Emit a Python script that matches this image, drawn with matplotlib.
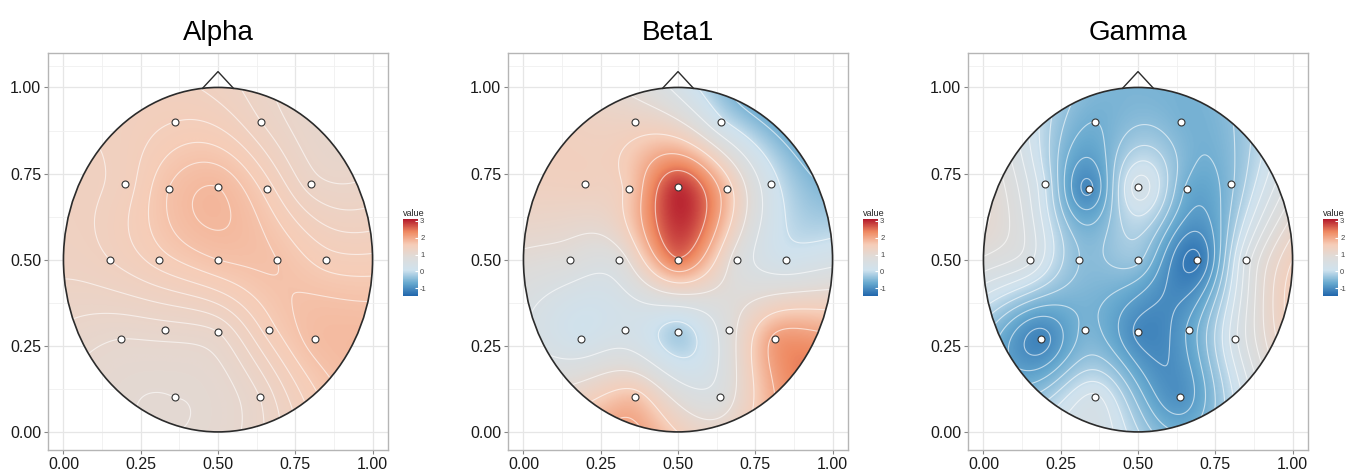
import numpy as np
import matplotlib
matplotlib.use("Agg")
import matplotlib.pyplot as plt
from matplotlib.colors import LinearSegmentedColormap
from matplotlib.patches import Ellipse
from matplotlib.ticker import MaxNLocator

plt.rcParams["font.family"] = ["Liberation Sans", "DejaVu Sans"]
plt.rcParams["axes.unicode_minus"] = False

# ---- data ----
electrodes = ["Fp1", "Fp2", "F7", "F3", "Fz", "F4", "F8", "T3", "C3", "Cz",
              "C4", "T4", "T5", "P3", "Pz", "P4", "T6", "O1", "O2"]
elec_x = [0.36, 0.64, 0.20, 0.34, 0.50, 0.66, 0.80, 0.15, 0.31, 0.50,
          0.69, 0.85, 0.185, 0.33, 0.50, 0.665, 0.815, 0.36, 0.635]
elec_y = [0.90, 0.90, 0.72, 0.705, 0.71, 0.705, 0.72, 0.50, 0.50, 0.50,
          0.50, 0.50, 0.27, 0.295, 0.29, 0.295, 0.27, 0.10, 0.10]

alpha_vals = [1.50, 1.30, 1.45, 1.70, 1.80, 1.55, 1.25, 1.40, 1.55, 1.70,
              1.70, 1.55, 1.10, 1.15, 1.20, 1.55, 1.75, 1.00, 1.20]
beta1_vals = [1.30, 0.10, 1.40, 1.60, 2.90, 1.70, 0.20, 0.80, 0.80, 2.45,
              0.80, 0.20, 0.20, 0.30, -0.20, 0.80, 2.10, 1.70, 0.70]
gamma_vals = [-0.60, -0.55, 0.00, -1.05, 0.30, -0.65, -0.45, 0.45, -0.40, -0.35,
              -1.25, 0.45, -1.10, -0.55, -1.05, -0.75, 0.35, 0.25, -0.95]

titles = ["Alpha", "Beta1", "Gamma"]
series = [alpha_vals, beta1_vals, gamma_vals]
axis_ticks = [0.0, 0.25, 0.5, 0.75, 1.0]
axis_ticklabels = ["0.00", "0.25", "0.50", "0.75", "1.00"]
cbar_ticks = [-1, 0, 1, 2, 3]
vmin, vmax = -1.45, 3.1

# ---- colormap (distiller RdBu-like, greyish centre) ----
cmap = LinearSegmentedColormap.from_list(
    "rdbu_g", ["#2166ac", "#67a9cf", "#cfe2ee", "#dedcda", "#f6cdb8", "#ef8a62", "#b2182b"])


def biharmonic(xs, ys, vs, gx, gy):
    xs = np.asarray(xs); ys = np.asarray(ys); vs = np.asarray(vs)
    def g(r):
        with np.errstate(divide="ignore", invalid="ignore"):
            out = r ** 2 * (np.log(r) - 1.0)
        out[r == 0] = 0.0
        return out
    d = np.hypot(xs[:, None] - xs[None, :], ys[:, None] - ys[None, :])
    w = np.linalg.solve(g(d), vs)
    dg = np.hypot(gx.ravel()[:, None] - xs[None, :], gy.ravel()[:, None] - ys[None, :])
    return (g(dg) @ w).reshape(gx.shape)


W, H = 1361, 471
fig = plt.figure(figsize=(W / 100, H / 100), dpi=100)

panel_left = [48, 508, 968]
panel_w = 340
panel_top, panel_bot = 53, 450
cbar_left = [403, 863, 1323]

n = 400
gxv = np.linspace(0, 1, n)
gyv = np.linspace(0, 1, n)
GX, GY = np.meshgrid(gxv, gyv)
inside = (GX - 0.5) ** 2 + (GY - 0.5) ** 2 <= 0.25

for i in range(3):
    ax = fig.add_axes([panel_left[i] / W, 1 - panel_bot / H, panel_w / W, (panel_bot - panel_top) / H])
    ax.set_xlim(-0.05, 1.05)
    ax.set_ylim(-0.0525, 1.1)
    ax.set_xticks(axis_ticks)
    ax.set_xticklabels(axis_ticklabels)
    ax.set_yticks(axis_ticks)
    ax.set_yticklabels(axis_ticklabels)
    ax.set_xticks([0.125, 0.375, 0.625, 0.875], minor=True)
    ax.set_yticks([0.125, 0.375, 0.625, 0.875, 1.0625], minor=True)
    ax.grid(True, which="major", color="#e6e6e6", lw=0.9)
    ax.grid(True, which="minor", color="#f0f0f0", lw=0.6)
    ax.set_axisbelow(True)
    ax.tick_params(which="major", length=3, color="#888888", labelsize=11.5, labelcolor="#1a1a1a", pad=2)
    ax.tick_params(which="minor", length=0)
    for s in ax.spines.values():
        s.set_color("#b5b5b5")
        s.set_linewidth(1.0)

    Z = biharmonic(elec_x, elec_y, series[i], GX, GY)
    head = Ellipse((0.5, 0.5), 1.0, 1.0, facecolor="none", edgecolor="#2b2b2b", lw=1.2, zorder=5)
    ax.add_patch(head)
    im = ax.imshow(Z, extent=(0, 1, 0, 1), origin="lower", cmap=cmap, vmin=vmin, vmax=vmax,
                   interpolation="bilinear", aspect="auto", zorder=2)
    im.set_clip_path(head)
    zin = Z[inside]
    levels = MaxNLocator(nbins=14, steps=[1, 2, 5, 10]).tick_values(zin.min(), zin.max())
    cs = ax.contour(GX, GY, Z, levels=levels, colors="white", linewidths=0.8, alpha=0.6,
                    linestyles="solid", zorder=3)
    cs.set_clip_path(head)
    ax.plot([0.45, 0.5, 0.55], [0.9975, 1.046, 0.9975], color="#2b2b2b", lw=1.0, zorder=5)
    ax.plot(elec_x, elec_y, "o", ms=5, mfc="white", mec="#333333", mew=0.8, zorder=6)
    ax.set_title(titles[i], fontsize=20, pad=9)

    cax = fig.add_axes([cbar_left[i] / W, 1 - 296 / H, 15 / W, 77 / H])
    cb = fig.colorbar(im, cax=cax, ticks=cbar_ticks)
    cb.outline.set_visible(False)
    cax.tick_params(labelsize=5.5, length=2, color="white", labelcolor="#444444", pad=1.5, direction="in")
    cax.set_title("value", fontsize=6.5, loc="left", pad=2, color="#222222")

fig.savefig("out.png", dpi=100)
